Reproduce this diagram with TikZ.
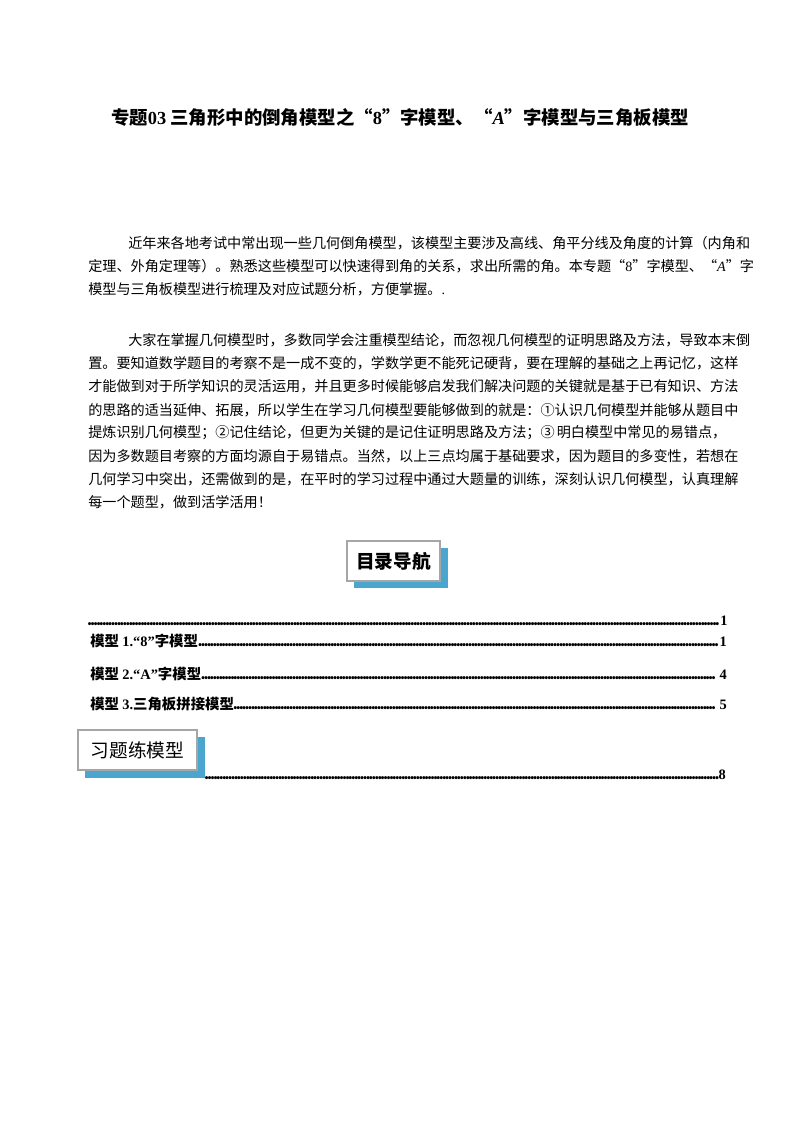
\documentclass[tikz,border=0pt]{standalone}
\usepackage{fontspec}
\setmainfont{Noto Sans CJK SC}
\newfontfamily\lat{Liberation Serif}
\XeTeXinterchartokenstate=1
\XeTeXinterchartoks 1 1 {\hskip0pt plus 1fil\relax}
\XeTeXinterchartoks 1 2 {\hskip0pt plus 1fil\relax}
\XeTeXinterchartoks 1 3 {\hskip0pt plus 1fil\relax}
\XeTeXinterchartoks 2 1 {\hskip0pt plus 1fil\relax}
\XeTeXinterchartoks 3 1 {\hskip0pt plus 1fil\relax}
\XeTeXinterchartoks 0 1 {\hskip0pt plus 1fil\relax}
\XeTeXinterchartoks 1 0 {\hskip0pt plus 1fil\relax}
\XeTeXinterchartoks 3 2 {\hskip0pt plus 1fil\relax}
\XeTeXinterchartoks 0 2 {\hskip0pt plus 1fil\relax}
\XeTeXinterchartoks 3 0 {\hskip0pt plus 1fil\relax}
\newcommand{\jl}[2]{\makebox[#1][s]{#2}}
\newcommand{\dl}{\leaders\hbox to 2.2pt{\hss.\hss}\hfill}
\tikzset{
  ln/.style={anchor=west,inner sep=0pt,font=\fontsize{10.6pt}{12pt}\selectfont},
  toc/.style={anchor=west,inner sep=0pt,font=\fontsize{10.8pt}{12pt}\selectfont\bfseries},
  shbox/.style={fill=white,draw=gray!70,line width=1pt},
  shadowc/.style={fill=shblue},
}
\definecolor{shblue}{HTML}{4AA6CF}
\begin{document}
\begin{tikzpicture}[x=0.75pt,y=-0.75pt]
\useasboundingbox[fill=white] (0,0) rectangle (800,1132);
\node[inner sep=0pt,font=\fontsize{13.8pt}{15pt}\selectfont\bfseries] (title) at (400,117)
 {专题{\lat 03} 三角形中的倒角模型之“{\lat 8}”字模型、“{\lat\itshape A}”字模型与三角板模型};
% paragraph 1
\node[ln] (p1) at (128,243) {\jl{438pt}{近年来各地考试中常出现一些几何倒角模型，该模型主要涉及高线、角平分线及角度的计算（内角和}};
\node[ln] (p2) at (88,266) {\jl{468pt}{定理、外角定理等）。熟悉这些模型可以快速得到角的关系，求出所需的角。本专题“{\lat 8}”字模型、“{\lat\itshape A}”字}};
\node[ln] (p3) at (88,289) {模型与三角板模型进行梳理及对应试题分析，方便掌握。{\lat .}};
% paragraph 2
\node[ln] (q1) at (128,340) {\jl{438pt}{大家在掌握几何模型时，多数同学会注重模型结论，而忽视几何模型的证明思路及方法，导致本末倒}};
\node[ln] (q2) at (88,363) {\jl{468pt}{置。要知道数学题目的考察不是一成不变的，学数学更不能死记硬背，要在理解的基础之上再记忆，这样}};
\node[ln] (q3) at (88,386) {\jl{468pt}{才能做到对于所学知识的灵活运用，并且更多时候能够启发我们解决问题的关键就是基于已有知识、方法}};
\node[ln] (q4) at (88,410) {\jl{468pt}{的思路的适当延伸、拓展，所以学生在学习几何模型要能够做到的就是：①认识几何模型并能够从题目中}};
\node[ln] (q5) at (88,433) {\jl{468pt}{提炼识别几何模型；②记住结论，但更为关键的是记住证明思路及方法；③ 明白模型中常见的易错点，}};
\node[ln] (q6) at (88,456) {\jl{468pt}{因为多数题目考察的方面均源自于易错点。当然，以上三点均属于基础要求，因为题目的多变性，若想在}};
\node[ln] (q7) at (88,479) {\jl{468pt}{几何学习中突出，还需做到的是，在平时的学习过程中通过大题量的训练，深刻认识几何模型，认真理解}};
\node[ln] (q8) at (88,502) {每一个题型，做到活学活用！};
% box 1
\fill[shadowc] (354,548) rectangle (448,588);
\draw[shbox] (347,541) rectangle (440,581);
\node[inner sep=0pt,font=\fontsize{14pt}{16pt}\selectfont\bfseries] (b1) at (393.5,561) {目录导航};
% toc
\node[toc] (t0) at (88,621) {\makebox[474pt][l]{\dl}{\lat\bfseries 1}};
\node[toc] (t1) at (90,641) {\makebox[472pt][l]{模型 {\lat\bfseries 1.“8”}字模型\dl}{\lat\bfseries 1}};
\node[toc] (t2) at (90,674) {\makebox[472pt][l]{模型 {\lat\bfseries 2.“A”}字模型\dl\ }{\lat\bfseries 4}};
\node[toc] (t3) at (90,704) {\makebox[472pt][l]{模型 {\lat\bfseries 3.}三角板拼接模型\dl\ }{\lat\bfseries 5}};
% box 2
\fill[shadowc] (85,737) rectangle (205,778);
\draw[shbox] (78,730) rectangle (197,770);
\node[inner sep=0pt,font=\fontsize{14pt}{16pt}\selectfont] (b2) at (137.5,750) {习题练模型};
\node[toc] (t4) at (205,775) {\makebox[385pt][l]{\dl}{\lat\bfseries 8}};
\end{tikzpicture}
\end{document}
